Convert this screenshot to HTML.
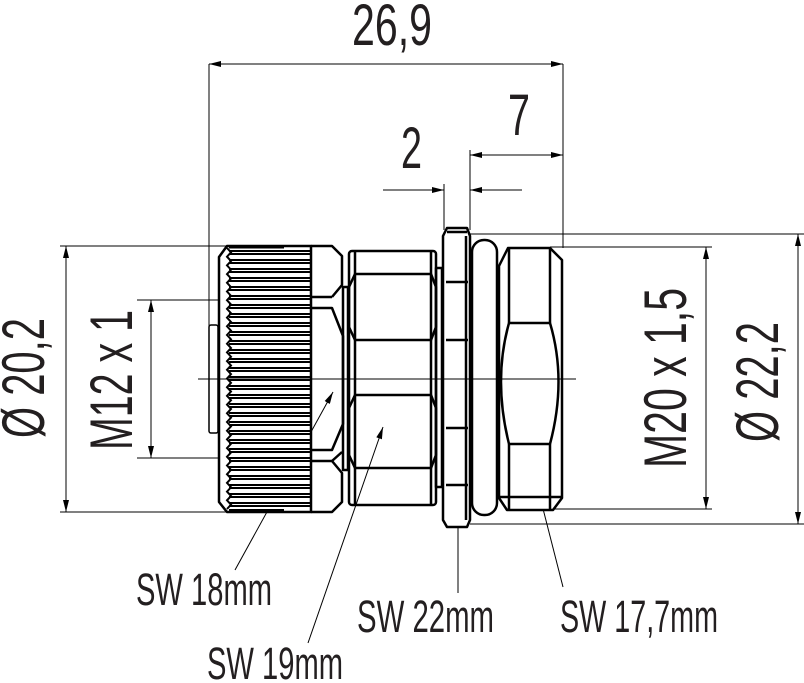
<!DOCTYPE html>
<html><head><meta charset="utf-8"><style>
html,body{margin:0;padding:0;background:#fff;}
svg{display:block;}
text{font-family:"Liberation Sans Narrow","Liberation Sans",sans-serif;fill:#231f20;}
</style></head><body>
<svg width="804" height="683" viewBox="0 0 804 683" xmlns="http://www.w3.org/2000/svg">
<defs>
<marker id="a" viewBox="0 0 12 6" refX="12" refY="3" markerWidth="12" markerHeight="6" markerUnits="userSpaceOnUse" orient="auto-start-reverse"><path d="M0,0 L12,3 L0,6 Z" fill="#000"/></marker>
</defs>
<g stroke="#000" fill="none" stroke-width="1">
<line x1="209" y1="64" x2="209" y2="380"/>
<line x1="563" y1="64" x2="563" y2="248"/>
<line x1="209" y1="64" x2="563" y2="64" marker-start="url(#a)" marker-end="url(#a)"/>
<line x1="470" y1="150" x2="470" y2="230"/>
<line x1="470" y1="155" x2="563" y2="155" marker-start="url(#a)" marker-end="url(#a)"/>
<line x1="444" y1="184" x2="444" y2="230"/>
<line x1="383" y1="190" x2="444" y2="190" marker-end="url(#a)"/>
<line x1="522" y1="190" x2="470" y2="190" marker-end="url(#a)"/>
<line x1="60" y1="246" x2="230" y2="246"/>
<line x1="60" y1="512" x2="230" y2="512"/>
<line x1="66" y1="246" x2="66" y2="512" marker-start="url(#a)" marker-end="url(#a)"/>
<line x1="137" y1="300" x2="226" y2="300"/>
<line x1="137" y1="458" x2="226" y2="458"/>
<line x1="151" y1="300" x2="151" y2="458" marker-start="url(#a)" marker-end="url(#a)"/>
<line x1="550" y1="247" x2="712" y2="247"/>
<line x1="550" y1="509" x2="712" y2="509"/>
<line x1="706" y1="247" x2="706" y2="509" marker-start="url(#a)" marker-end="url(#a)"/>
<line x1="470" y1="234" x2="804" y2="234"/>
<line x1="470" y1="524" x2="804" y2="524"/>
<line x1="798" y1="234" x2="798" y2="524" marker-start="url(#a)" marker-end="url(#a)"/>
<line x1="198" y1="379" x2="576" y2="379"/>
<line x1="235" y1="570" x2="333" y2="392" marker-end="url(#a)"/>
<line x1="308" y1="643" x2="383" y2="427" marker-end="url(#a)"/>
<line x1="458" y1="593" x2="458" y2="385" marker-end="url(#a)"/>
<line x1="563" y1="587" x2="528" y2="450" marker-end="url(#a)"/>
</g>

<g stroke="#000" fill="none" stroke-width="2.5" stroke-linejoin="round">
<rect x="209" y="325" width="9" height="108" rx="2" stroke-width="1.5"/>
<path d="M227,246 H311 V512 H227 L219,502 V257 Z" fill="#fff"/>
<rect x="229" y="245" width="55" height="3.5" fill="#000" stroke="none"/>
<rect x="229" y="509" width="55" height="3.5" fill="#000" stroke="none"/>
</g>
<g stroke="#000" stroke-width="2" fill="none">
<path d="M229,251 H311 M229,254 H311 M229,260 H311 M229,263 H311 M229,269 H311 M229,272 H311 M229,278 H311 M229,281 H311 M229,287 H311 M229,290 H311 M229,296 H311 M229,299 H311 M229,305 H311 M229,308 H311 M229,314 H311 M229,317 H311 M229,323 H311 M229,326 H311 M229,332 H311 M229,335 H311 M229,341 H311 M229,344 H311 M229,350 H311 M229,353 H311 M229,359 H311 M229,362 H311 M229,368 H311 M229,371 H311 M229,377 H311 M229,380 H311 M229,386 H311 M229,389 H311 M229,395 H311 M229,398 H311 M229,404 H311 M229,407 H311 M229,413 H311 M229,416 H311 M229,422 H311 M229,425 H311 M229,431 H311 M229,434 H311 M229,440 H311 M229,443 H311 M229,449 H311 M229,452 H311 M229,458 H311 M229,461 H311 M229,467 H311 M229,470 H311 M229,476 H311 M229,479 H311 M229,485 H311 M229,488 H311 M229,494 H311 M229,497 H311 M229,503 H311 M229,506 H311"/>
<path d="M227,248 l4,4.35 l-4,4.35 l4,4.35 l-4,4.35 l4,4.35 l-4,4.35 l4,4.35 l-4,4.35 l4,4.35 l-4,4.35 l4,4.35 l-4,4.35 l4,4.35 l-4,4.35 l4,4.35 l-4,4.35 l4,4.35 l-4,4.35 l4,4.35 l-4,4.35 l4,4.35 l-4,4.35 l4,4.35 l-4,4.35 l4,4.35 l-4,4.35 l4,4.35 l-4,4.35 l4,4.35 l-4,4.35 l4,4.35 l-4,4.35 l4,4.35 l-4,4.35 l4,4.35 l-4,4.35 l4,4.35 l-4,4.35 l4,4.35 l-4,4.35 l4,4.35 l-4,4.35 l4,4.35 l-4,4.35 l4,4.35 l-4,4.35 l4,4.35 l-4,4.35 l4,4.35 l-4,4.35 l4,4.35 l-4,4.35 l4,4.35 l-4,4.35 l4,4.35 l-4,4.35 l4,4.35 l-4,4.35 l4,4.35 l-4,4.35"/>
</g>

<g stroke="#000" fill="none" stroke-width="2.5" stroke-linejoin="round">
<path d="M311,246 H332 L342,256 V285 L332,297 M311,297 H332 M311,308 H332 L343,336 V424 L332,450 H311 M311,461 H332 L342,473 V502 L332,512 H311"/>
<path d="M332,461 L342,452"/>
<rect x="343" y="287" width="5" height="183"/>
<rect x="349" y="251" width="87" height="254" rx="3"/>
<path d="M355,251 V505 M431,251 V505"/>
<path d="M355,274 H431 M355,340 H431 M355,395 H431 M355,468 H431"/>
<path d="M355,274 L349,287 V327 L355,340 M431,274 L436,287 V327 L431,340"/>
<path d="M355,395 L349,408 V455 L355,468 M431,395 L436,408 V455 L431,468"/>
<rect x="436" y="268" width="6" height="219"/>
<path d="M447,228 H467 L470,236 V520 L467,527 H447 L443,520 V236 Z" fill="#fff"/>
<path d="M447,232 H467 M446,282 H468 M446,340 H468 M446,428 H468 M446,485 H468 M466,236 V520"/>
<rect x="472" y="240" width="25" height="275" rx="12" fill="#fff"/>
<path d="M508,248 H550 L562,260 V498 L553,510 H507 L499,498 V266 Z" fill="#fff"/>
<path d="M509,248 V323 M550,248 V323 M509,444 V510 M550,444 V510"/>
<path d="M509,323 H550 M509,444 H550 M499,497 H562"/>
<path d="M509,323 Q493,380 509,444 M550,323 Q567,380 550,444"/>
</g>
<line x1="209" y1="379" x2="576" y2="379" stroke="#000" stroke-width="1"/>

<text x="352" y="45" font-size="58" textLength="80" lengthAdjust="spacingAndGlyphs">26,9</text>
<text x="508" y="135" font-size="58" textLength="22" lengthAdjust="spacingAndGlyphs">7</text>
<text x="401" y="168" font-size="58" textLength="21" lengthAdjust="spacingAndGlyphs">2</text>
<text transform="translate(22,378) rotate(-90)" x="0" y="22" font-size="60" text-anchor="middle" textLength="120" lengthAdjust="spacingAndGlyphs">Ø 20,2</text>
<text transform="translate(110,380) rotate(-90)" x="0" y="22" font-size="60" text-anchor="middle" textLength="140" lengthAdjust="spacingAndGlyphs">M12 x 1</text>
<text transform="translate(664,378) rotate(-90)" x="0" y="22" font-size="60" text-anchor="middle" textLength="180" lengthAdjust="spacingAndGlyphs">M20 x 1,5</text>
<text transform="translate(756,382) rotate(-90)" x="0" y="22" font-size="60" text-anchor="middle" textLength="120" lengthAdjust="spacingAndGlyphs">Ø 22,2</text>
<text x="136" y="605" font-size="45" textLength="136" lengthAdjust="spacingAndGlyphs">SW 18mm</text>
<text x="207" y="679" font-size="45" textLength="136" lengthAdjust="spacingAndGlyphs">SW 19mm</text>
<text x="357" y="632" font-size="45" textLength="137" lengthAdjust="spacingAndGlyphs">SW 22mm</text>
<text x="560" y="632" font-size="45" textLength="158" lengthAdjust="spacingAndGlyphs">SW 17,7mm</text>
</svg>
</body></html>
